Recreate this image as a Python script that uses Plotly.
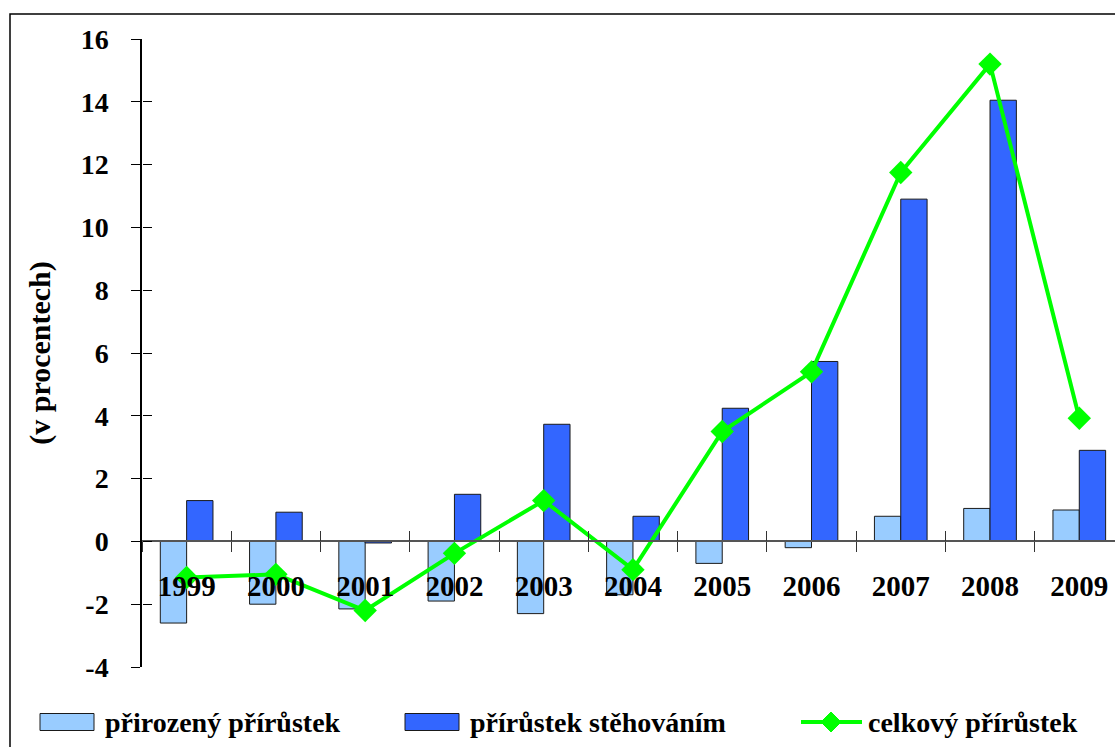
import plotly.graph_objects as go

# Data
years = ["1999", "2000", "2001", "2002", "2003", "2004",
         "2005", "2006", "2007", "2008", "2009"]
natural = [-2.6, -2.0, -2.15, -1.9, -2.3, -1.7, -0.7, -0.2, 0.8, 1.05, 1.0]
migration = [1.3, 0.93, -0.05, 1.5, 3.73, 0.8, 4.24, 5.73, 10.9, 14.05, 2.9]
total = [-1.15, -1.05, -2.2, -0.38, 1.3, -0.9, 3.5, 5.4, 11.75, 15.2, 3.92]
y_ticks = [-4, -2, 0, 2, 4, 6, 8, 10, 12, 14, 16]
y_ticktext = ["-4", "-2", "0", "2", "4", "6", "8", "10", "12", "14", "16"]
series_names = ["přirozený přírůstek", "přírůstek stěhováním", "celkový přírůstek"]

LIGHT = "#99CCFF"
DARK = "#3366FF"
GREEN = "#00FF00"
FONT = "Liberation Serif"

W, H = 1115, 747
L, R, T, B = 142, 0, 39, 80
PW, PH = W - L - R, H - T - B


def fx(px):
    # pixel x -> plot-area paper fraction
    return (px - L) / PW


def fy(py):
    return (H - B - py) / PH


fig = go.Figure()
fig.add_trace(go.Bar(
    x=years, y=natural, name=series_names[0], showlegend=False,
    marker=dict(color=LIGHT, line=dict(color="#1a1a1a", width=1))
))
fig.add_trace(go.Bar(
    x=years, y=migration, name=series_names[1], showlegend=False,
    marker=dict(color=DARK, line=dict(color="#1a1a1a", width=1))
))
fig.add_trace(go.Scatter(
    x=years, y=total, name=series_names[2], mode="lines+markers",
    showlegend=False,
    line=dict(color=GREEN, width=4),
    marker=dict(symbol="diamond", size=18, color=GREEN)
))
# invisible copy so the overlay axes (upper/right halves of the cross ticks) get drawn
fig.add_trace(go.Scatter(
    x=years, y=total, xaxis="x2", yaxis="y2", mode="markers",
    marker=dict(opacity=0), hoverinfo="skip", showlegend=False
))

# outer frame
fig.add_shape(type="rect", xref="paper", yref="paper",
              x0=fx(10), x1=fx(1130), y0=fy(760), y1=fy(14),
              line=dict(color="black", width=1.5), layer="below")

# legend drawn by hand (wide swatches like the original)
ly = 722
for x0, col, name in [(40, LIGHT, series_names[0]), (405, DARK, series_names[1])]:
    fig.add_shape(type="rect", xref="paper", yref="paper",
                  x0=fx(x0), x1=fx(x0 + 54), y0=fy(ly + 8.5), y1=fy(ly - 8.5),
                  fillcolor=col, line=dict(color="#1a1a1a", width=1))
    fig.add_annotation(x=fx(x0 + 63), y=fy(ly), xref="paper", yref="paper",
                       text=name, showarrow=False, xanchor="left", yanchor="middle",
                       font=dict(family=FONT, size=28, weight="bold"))

fig.add_shape(type="line", xref="paper", yref="paper",
              x0=fx(801), x1=fx(862), y0=fy(ly), y1=fy(ly),
              line=dict(color=GREEN, width=4))
fig.add_shape(type="path", xref="paper", yref="paper",
              path=(f"M {fx(831)},{fy(ly - 10)} L {fx(841)},{fy(ly)} "
                    f"L {fx(831)},{fy(ly + 10)} L {fx(821)},{fy(ly)} Z"),
              fillcolor=GREEN, line=dict(color=GREEN, width=1))
fig.add_annotation(x=fx(866), y=fy(ly), xref="paper", yref="paper",
                   text=series_names[2], showarrow=False, xanchor="left",
                   yanchor="middle", font=dict(family=FONT, size=28, weight="bold"))

fig.update_layout(
    width=W, height=H,
    paper_bgcolor="white", plot_bgcolor="white",
    margin=dict(l=L, r=R, t=T, b=B, autoexpand=False),
    font=dict(family=FONT, color="black", size=26, weight="bold"),
    barmode="group", bargap=0.41, bargroupgap=0,
    showlegend=False,
    xaxis=dict(
        type="category", range=[-0.5, 10.4],
        anchor="free", position=0.2,
        showline=True, linecolor="#555555", linewidth=1.5,
        ticks="outside", tickson="boundaries", ticklen=10,
        tickcolor="#333333", ticklabelstandoff=19,
        showgrid=False, zeroline=False,
        tickfont=dict(family=FONT, size=29, weight="bold"),
    ),
    xaxis2=dict(
        type="category", matches="x", overlaying="x",
        anchor="free", position=0.2,
        showline=False, ticks="inside", tickson="boundaries", ticklen=10,
        tickcolor="#333333", showticklabels=False,
        showgrid=False, zeroline=False,
    ),
    yaxis=dict(
        range=[-4, 16], tickvals=y_ticks, ticktext=y_ticktext,
        showline=True, linecolor="black", linewidth=1.5,
        ticks="outside", ticklen=9, tickcolor="black",
        ticklabelstandoff=17,
        showgrid=False, zeroline=False,
        tickfont=dict(family=FONT, size=28, weight="bold"),
        title=dict(text="(v procentech)", standoff=21,
                   font=dict(family=FONT, size=30, weight="bold")),
    ),
    yaxis2=dict(
        matches="y", overlaying="y", tickvals=y_ticks,
        anchor="free", position=0, side="left",
        showline=False, ticks="inside", ticklen=9, tickcolor="black",
        showticklabels=False, showgrid=False, zeroline=False,
    ),
)

fig.write_html("out.html",
               config={"displayModeBar": False},
               post_script="document.body.style.margin='0';")
